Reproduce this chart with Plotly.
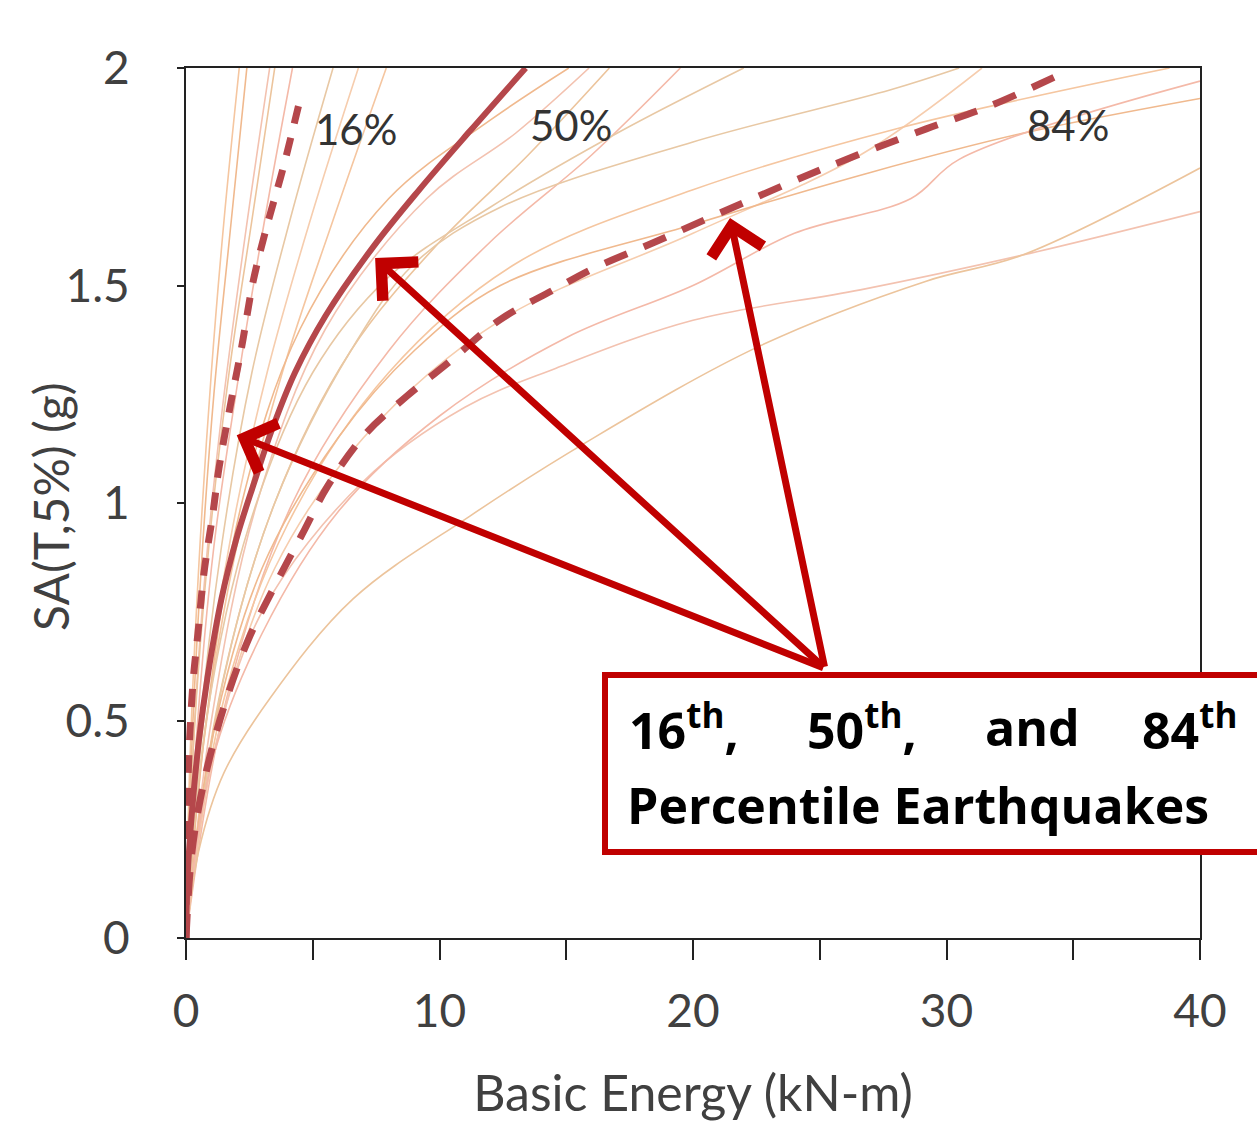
import plotly.graph_objects as go

# ---------------- data ----------------
# individual earthquake curves (Basic Energy kN-m, SA g)
eq_x = [
    [0, 0.15, 0.5, 1.0, 1.5, 2.1],
    [0, 0.2, 0.6, 1.1, 1.7, 2.4],
    [0, 0.25, 0.7, 1.4, 2.3, 3.3],
    [0, 0.3, 0.9, 1.7, 2.6, 3.5],
    [0, 0.4, 1.1, 2.1, 3.1, 4.2],
    [0, 0.5, 1.4, 2.6, 4.1, 5.8],
    [0, 0.6, 1.7, 3.2, 4.9, 6.8],
    [0, 0.7, 2.0, 3.8, 5.8, 7.9],
    [0, 0.8, 2.2, 4.5, 8, 12, 15.1],
    [0, 1.0, 2.8, 5.5, 9.5, 13, 15.9],
    [0, 1.3, 3.5, 6.5, 10, 13.5, 16.7],
    [0, 1.6, 4.2, 8, 12, 16, 19.5],
    [0, 1.5, 3.5, 6.5, 9, 12.4, 20, 27.8, 30.5],
    [0, 1.2, 3.5, 7, 12.4, 20, 26.6, 31.4],
    [0, 1.5, 4, 8, 13, 20, 28, 38.8],
    [0, 1, 3, 6, 9, 12.4, 20, 27, 33, 40],
    [0, 1, 3, 7, 11, 14.6, 20, 26.6, 33, 40],
    [0, 0.5, 1.5, 3.3, 6.6, 11.2, 15.8, 22.6, 29.2, 33, 40],
    [0, 1, 3, 6, 10, 15, 20, 24, 28.6, 30.5, 40],
    [0, 0.8, 2.5, 5, 8, 12, 17, 22],
]
eq_y = [
    [0, 0.4, 0.85, 1.3, 1.65, 2.0],
    [0, 0.4, 0.85, 1.25, 1.6, 2.0],
    [0, 0.4, 0.8, 1.2, 1.6, 2.0],
    [0, 0.45, 0.9, 1.3, 1.65, 2.0],
    [0, 0.45, 0.9, 1.3, 1.65, 2.0],
    [0, 0.45, 0.9, 1.3, 1.65, 2.0],
    [0, 0.45, 0.9, 1.3, 1.65, 2.0],
    [0, 0.45, 0.9, 1.3, 1.65, 2.0],
    [0, 0.5, 1.0, 1.4, 1.7, 1.88, 2.0],
    [0, 0.5, 1.0, 1.4, 1.7, 1.85, 2.0],
    [0, 0.55, 1.0, 1.35, 1.6, 1.8, 2.0],
    [0, 0.55, 1.0, 1.35, 1.6, 1.8, 2.0],
    [0, 0.6, 1.0, 1.35, 1.55, 1.68, 1.83, 1.95, 2.0],
    [0, 0.45, 0.85, 1.15, 1.42, 1.62, 1.8, 2.0],
    [0, 0.55, 0.95, 1.3, 1.55, 1.72, 1.86, 2.0],
    [0, 0.45, 0.85, 1.15, 1.35, 1.5, 1.64, 1.76, 1.85, 1.93],
    [0, 0.4, 0.75, 1.05, 1.22, 1.31, 1.42, 1.49, 1.57, 1.67],
    [0, 0.2, 0.38, 0.55, 0.78, 0.97, 1.14, 1.36, 1.51, 1.57, 1.77],
    [0, 0.4, 0.7, 0.98, 1.2, 1.38, 1.5, 1.62, 1.70, 1.79, 1.97],
    [0, 0.5, 0.95, 1.3, 1.52, 1.68, 1.85, 2.0],
]

p16_x = [0, 0.02, 0.1, 0.28, 0.47, 0.71, 1.07, 1.3, 1.8, 2.2, 2.65, 3.16, 3.83, 4.55]
p16_y = [0, 0.2, 0.4, 0.59, 0.70, 0.84, 0.98, 1.08, 1.24, 1.36, 1.51, 1.63, 1.77, 1.94]

p50_x = [0, 0.07, 0.25, 0.5, 0.85, 1.4, 2.0, 2.65, 3.4, 4.3, 5.5, 7.4, 9.2, 11.2, 13.4]
p50_y = [0, 0.15, 0.3, 0.45, 0.6, 0.78, 0.92, 1.04, 1.17, 1.3, 1.43, 1.59, 1.72, 1.855, 2.0]

p84_x = [0, 0.2, 0.5, 1.0, 1.6, 2.45, 3.55, 4.6, 5.6, 7.1, 8.7, 10.5, 12.35, 14.5,
         16.1, 18.5, 21.2, 25.2, 29.2, 31.6, 34.3]
p84_y = [0, 0.18, 0.3, 0.43, 0.55, 0.685, 0.815, 0.93, 1.04, 1.16, 1.245, 1.33, 1.42,
         1.49, 1.54, 1.6, 1.67, 1.77, 1.86, 1.91, 1.98]

pct_labels = ["16%", "50%", "84%"]
pct_label_x = [6.7, 15.2, 34.8]
pct_label_y = [1.86, 1.87, 1.87]

x_ticks = [0, 10, 20, 30, 40]
y_ticks = [0, 0.5, 1, 1.5, 2]
y_tick_text = ["0", "0.5", "1", "1.5", "2"]

# ---------------- figure ----------------
thin_colors = ["#f5c6a0", "#f0b98e", "#f3c2b0", "#ecc49c", "#f4b9a8", "#e8c8a4", "#f6cdae"]

fig = go.Figure()
for i, (xs, ys) in enumerate(zip(eq_x, eq_y)):
    fig.add_trace(go.Scatter(
        x=xs, y=ys, mode="lines", line_shape="spline",
        line=dict(color=thin_colors[i % len(thin_colors)], width=1.6),
        hoverinfo="skip", showlegend=False))

pct_color = "#b5474b"
fig.add_trace(go.Scatter(x=p16_x, y=p16_y, mode="lines", line_shape="spline",
                         line=dict(color=pct_color, width=7, dash="18px,15px"),
                         showlegend=False))
fig.add_trace(go.Scatter(x=p84_x, y=p84_y, mode="lines", line_shape="spline",
                         line=dict(color=pct_color, width=7, dash="24px,18px"),
                         showlegend=False))
fig.add_trace(go.Scatter(x=p50_x, y=p50_y, mode="lines", line_shape="spline",
                         line=dict(color=pct_color, width=6),
                         showlegend=False))

annotations = []
for t, lx, ly in zip(pct_labels, pct_label_x, pct_label_y):
    annotations.append(dict(x=lx, y=ly, xref="x", yref="y", text=t, showarrow=False,
                            font=dict(family="Lato", size=42, color="#333333")))

# arrows (tail at box top)
arrow_red = "#c00000"
tail_x, tail_y = 25.2, 0.62
for tx, ty in [(2.0, 1.156), (7.46, 1.563), (21.46, 1.655)]:
    annotations.append(dict(x=tx, y=ty, xref="x", yref="y", ax=tail_x, ay=tail_y,
                            axref="x", ayref="y", showarrow=True, arrowhead=4,
                            arrowsize=1.45, arrowwidth=7, arrowcolor=arrow_red, text=""))

# y-axis title as rotated text
annotations.append(dict(x=(50 - 186) / 1014, y=(938 - 507) / 870, xref="paper", yref="paper",
                        text="SA(T,5%) (g)", showarrow=False, textangle=-90,
                        xanchor="center", yanchor="middle",
                        font=dict(family="Lato", size=48, color="#404040")))

# box text
box_font = dict(family="Open Sans", size=50, color="black")
line1 = [("16<sup>th</sup>,", 627), ("50<sup>th</sup>,", 805), ("and", 983), ("84<sup>th</sup>", 1140)]
for txt, px in line1:
    annotations.append(dict(x=(px - 186) / 1014, y=(938 - 727) / 870, xref="paper", yref="paper",
                            text="<b>" + txt + "</b>", showarrow=False, xanchor="left",
                            yanchor="middle", font=box_font))
annotations.append(dict(x=(625 - 186) / 1014, y=(938 - 805) / 870, xref="paper", yref="paper",
                        text="<b>Percentile Earthquakes</b>", showarrow=False, xanchor="left",
                        yanchor="middle", font=box_font))

shapes = [dict(type="rect", xref="paper", yref="paper",
               x0=(605 - 186) / 1014, x1=(1275 - 186) / 1014,
               y0=(938 - 852) / 870, y1=(938 - 675) / 870,
               line=dict(color=arrow_red, width=6), fillcolor="white", layer="above")]

tick_font = dict(family="Lato", size=46, color="#404040")
fig.update_layout(
    width=1257, height=1125,
    margin=dict(l=186, r=57, t=68, b=187),
    plot_bgcolor="white", paper_bgcolor="white",
    annotations=annotations, shapes=shapes,
    xaxis=dict(range=[0, 40], tickvals=x_ticks, ticks="outside", ticklen=20, tickwidth=2,
               tickcolor="#222", showline=True, linecolor="#222", linewidth=2, mirror=True,
               showgrid=False, zeroline=False, tickfont=tick_font, ticklabelstandoff=12,
               minor=dict(dtick=5, ticks="outside", ticklen=20, tickwidth=2, tickcolor="#222"),
               title=dict(text="Basic Energy (kN-m)", font=dict(family="Lato", size=50, color="#404040"),
                          standoff=40)),
    yaxis=dict(range=[0, 2], tickvals=y_ticks, ticktext=y_tick_text, ticks="outside", ticklen=7,
               tickwidth=2, tickcolor="#222", showline=True, linecolor="#222", linewidth=2,
               mirror=True, showgrid=False, zeroline=False, tickfont=tick_font,
               ticklabelstandoff=38),
)

fig.write_html("out.html")
